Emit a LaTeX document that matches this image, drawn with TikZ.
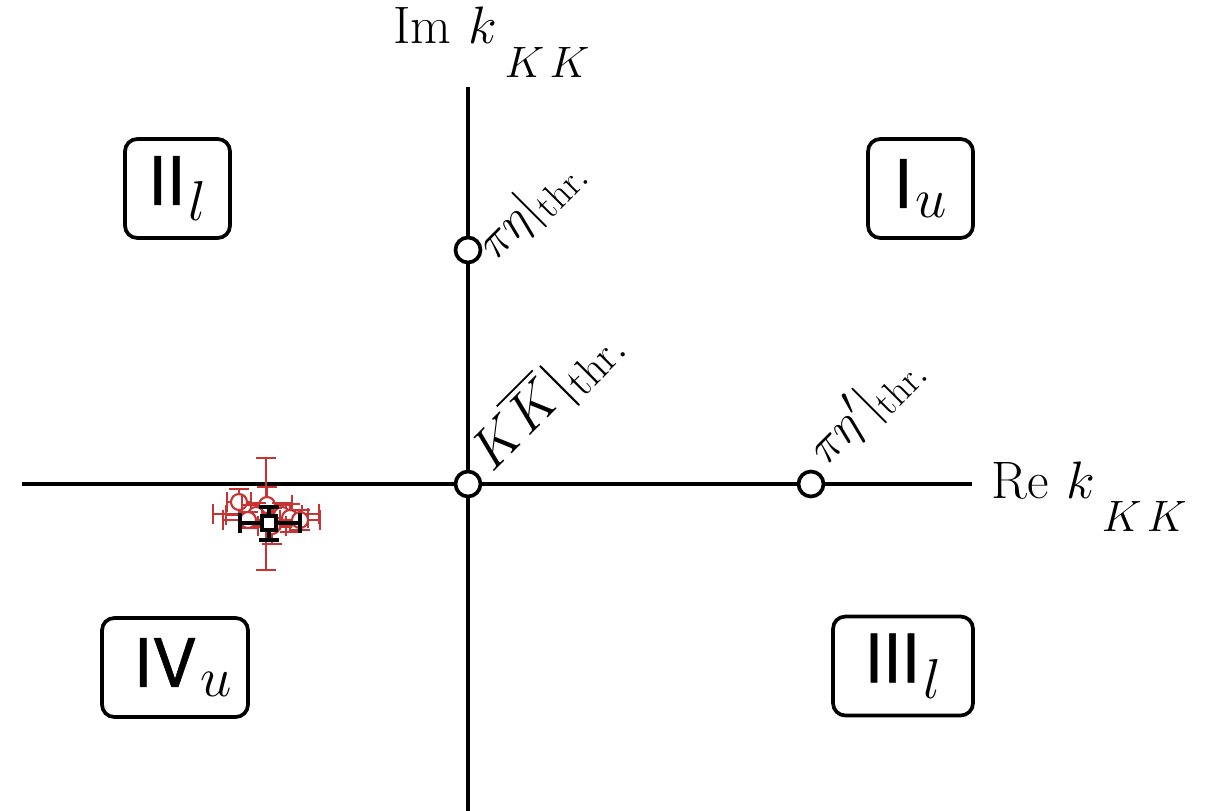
\RequirePackage{fix-cm}
\documentclass[tikz,border=0pt]{standalone}
\usepackage{amsmath}
\usepackage{fontspec}
\newfontfamily\sheetfont[FakeBold=0.8]{TeX Gyre Heros}
% large scripts for the big labels
\DeclareMathSizes{38}{38}{32}{24}
\DeclareMathSizes{28}{28}{22}{16}
\DeclareMathSizes{32}{32}{25}{18}
\definecolor{datared}{RGB}{200,52,52}
\tikzset{
  axis/.style={line width=2.1pt},
  sheet/.style={draw, line width=2.1pt, rounded corners=7pt, inner sep=0pt,
    minimum height=1.98cm, font=\fontsize{38}{42}\selectfont\sheetfont},
  thr/.style={circle, draw, fill=white, line width=2.1pt, minimum size=0.5cm, inner sep=0pt},
  thrlabel/.style={rotate=45, anchor=base west, inner sep=0pt},
  axlabel/.style={anchor=base west, inner sep=0pt, font=\fontsize{30}{33}\selectfont},
  redbar/.style={datared, line width=1.2pt},
  blackbar/.style={black, line width=2.6pt},
}
% axis variable with a low-set channel index
\newcommand\kvar{$k$\kern4pt\raisebox{-19pt}{\fontsize{25}{27}\selectfont$K\kern3pt K$}}
% error-bar point: centre x, centre y, half-width, half-height
\newcommand\rpoint[4]{%
  \draw[redbar] (#1-#3,#2) -- (#1+#3,#2) (#1,#2-#4) -- (#1,#2+#4)
    (#1-#3,#2-10) -- (#1-#3,#2+10) (#1+#3,#2-10) -- (#1+#3,#2+10)
    (#1-10,#2-#4) -- (#1+10,#2-#4) (#1-10,#2+#4) -- (#1+10,#2+#4);
  \draw[redbar, fill=white] (#1,#2) circle[radius=0.16cm];
}
\begin{document}
\begin{tikzpicture}[x=0.02cm, y=-0.02cm]
\useasboundingbox (0,0) rectangle (1224,811);

% axes
\coordinate (xl) at (22,484);
\coordinate (xr) at (972,484);
\coordinate (yt) at (468,87);
\coordinate (yb) at (468,811);
\draw[axis] (xl) -- (xr);
\draw[axis] (yt) -- (yb);

\node[axlabel] (imlab) at (393,44) {Im\kern10pt\kvar};
\node[axlabel] (relab) at (991,498) {Re\kern10pt\kvar};

% Riemann sheets
\node[sheet, minimum width=2.1cm] (s2) at (177.5,188.5) {II\kern2pt$_{l}$};
\node[sheet, minimum width=2.1cm] (s1) at (920.5,188.5) {I\kern2pt$_{u}$};
\node[sheet, minimum width=2.92cm] (s4) at (175,667.5) {\kern9pt IV\kern2pt$_{u}$};
\node[sheet, minimum width=2.8cm] (s3) at (903,666) {III\kern2pt$_{l}$};

% thresholds
\node[thr] (tpe) at (468,250) {};
\node[thr] (tkk) at (468,484) {};
\node[thr] (tpep) at (811,484) {};
\node[thrlabel, font=\fontsize{28}{30}\selectfont] (lpe) at (495,262) {$\pi\eta|_{\mathrm{thr.}}$};
\node[thrlabel, font=\fontsize{32}{35}\selectfont] (lkk) at (492,474) {$K\overline{K}|_{\mathrm{thr.}}$};
\node[thrlabel, font=\fontsize{28}{30}\selectfont] (lpep) at (826,467) {$\pi\eta'|_{\mathrm{thr.}}$};

% pole positions
\rpoint{266}{514}{53}{56}
\rpoint{239}{502}{12}{13}
\rpoint{267}{505}{25}{18}
\rpoint{256}{515}{30}{12}
\rpoint{282}{515}{20}{12}
\rpoint{290}{518}{18}{14}
\rpoint{300}{520}{20}{10}
\rpoint{248}{520}{25}{8}
\rpoint{272}{526}{14}{18}

\draw[blackbar] (240,523) -- (300,523) (269,507) -- (269,540)
  (240,513) -- (240,533) (300,513) -- (300,533)
  (259,507) -- (279,507) (259,540) -- (279,540);
\draw[blackbar, fill=white] (262,516) rectangle (276,530);
\end{tikzpicture}
\end{document}
